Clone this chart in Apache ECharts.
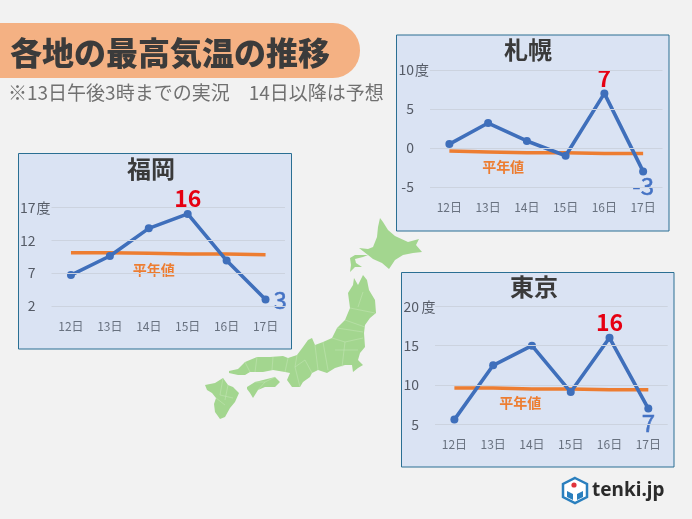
<!DOCTYPE html>
<html>
<head>
<meta charset="utf-8">
<title>各地の最高気温の推移</title>
<style>
html, body { margin: 0; padding: 0; background: #f2f2f2; }
#main { width: 692px; height: 519px; }
</style>
<script src="https://cdn.jsdelivr.net/npm/echarts@6/dist/echarts.min.js"></script>
</head>
<body>
<div id="main"></div>
<script>
var days = ['12日', '13日', '14日', '15日', '16日', '17日'];

var sapporoTemps = [0.5, 3.2, 0.9, -1, 7, -3];
var sapporoNormal = [-0.4, -0.5, -0.6, -0.6, -0.7, -0.7];
var sapporoTicks = [-5, 0, 5, 10];

var fukuokaTemps = [6.7, 9.6, 13.8, 16, 8.9, 3];
var fukuokaNormal = [10.1, 10.1, 10, 9.9, 9.9, 9.8];
var fukuokaTicks = [2, 7, 12, 17];

var tokyoTemps = [5.6, 12.5, 15, 9.1, 16, 7];
var tokyoNormal = [9.6, 9.6, 9.5, 9.5, 9.4, 9.4];
var tokyoTicks = [5, 10, 15, 20];

var cjk = '"Noto Sans CJK JP", sans-serif';

// 3つのパネル（位置はピクセル）
var panels = [
    {
        name: '札幌', temps: sapporoTemps, normal: sapporoNormal, ticks: sapporoTicks,
        box: [396.5, 35, 272.5, 196], grid: [430, 70, 232.5, 117], titleX: 523, titleY: 33,
        unit: '度', lastLabel: { position: 'bottom', distance: -2 },
        normalAt: 1, normalOffset: [15, 15]
    },
    {
        name: '福岡', temps: fukuokaTemps, normal: fukuokaNormal, ticks: fukuokaTicks,
        box: [18.5, 153.5, 273, 195.5], grid: [51.5, 207.3, 233.5, 98.7], titleX: 146, titleY: 152,
        unit: '度', lastLabel: { position: 'right', distance: 4 },
        normalAt: 2, normalOffset: [5, 16]
    },
    {
        name: '東京', temps: tokyoTemps, normal: tokyoNormal, ticks: tokyoTicks,
        box: [401.5, 272.5, 272.5, 194.5], grid: [435, 306.3, 232.7, 118], titleX: 529, titleY: 270,
        unit: ' 度', lastLabel: { position: 'bottom', distance: -2 },
        normalAt: 1, normalOffset: [27, 15]
    }
];

// 日本地図の輪郭
var landShapes = [
    [[380,218],[383,222],[388,230],[395,236],[408,242],[419,239],[416,245],[422,252],[413,253],[403,255],[395,260],[389,269],[382,263],[373,259],[368,255],[363,257],[355,259],[356,263],[362,267],[355,267],[350,272],[351,265],[350,258],[355,255],[368,255],[359,248],[368,249],[373,247],[377,237],[378,227]],
    [[354,278],[358,285],[363,275],[367,280],[369,290],[375,300],[376,313],[370,318],[365,325],[364,333],[365,347],[360,353],[358,360],[363,365],[358,368],[353,372],[352,365],[345,365],[335,368],[327,373],[318,370],[312,373],[310,377],[303,382],[300,387],[292,387],[287,380],[290,373],[285,372],[273,370],[263,372],[250,372],[245,375],[238,375],[229,373],[229,371],[238,369],[245,362],[257,357],[270,357],[283,356],[288,358],[297,355],[303,347],[308,340],[312,338],[315,345],[323,342],[332,338],[337,328],[345,320],[350,308],[348,293],[353,285]],
    [[247,387],[255,382],[267,379],[275,377],[280,382],[275,387],[265,387],[258,390],[253,398],[250,393],[247,389]],
    [[205,385],[215,383],[223,378],[228,385],[233,387],[239,393],[235,402],[230,408],[225,417],[220,419],[215,412],[214,404],[216,398],[212,393],[207,390]]
];
var borderLines = [
    [[363,292],[358,307]], [[350,308],[375,313]], [[345,320],[365,327]], [[337,328],[363,332]],
    [[332,338],[345,342],[363,338]], [[335,350],[358,350]], [[323,342],[328,370]], [[315,345],[318,370]],
    [[305,360],[312,373]], [[345,342],[342,367]], [[295,367],[305,360]], [[285,372],[288,358]],
    [[273,357],[272,370]], [[257,357],[255,372]], [[245,362],[250,372]], [[297,355],[295,367],[300,387]],
    [[255,382],[265,382],[275,377]], [[258,390],[265,382]], [[223,378],[220,395],[233,398]],
    [[216,398],[225,405]], [[228,385],[225,400]]
];

function buildGraphics() {
    var items = [];

    // 見出し
    items.push({
        type: 'rect', shape: { x: -30, y: 23, width: 390, height: 55, r: 27 },
        style: { fill: '#f4b183' }
    });
    items.push({
        type: 'text', x: 10, y: 53,
        style: { text: '各地の最高気温の推移', font: '900 32px ' + cjk, fill: '#3b3b3b', textVerticalAlign: 'middle' }
    });
    items.push({
        type: 'text', x: 8, y: 93,
        style: { text: '※13日午後3時までの実況　14日以降は予想', font: '19px ' + cjk, fill: '#707070', textVerticalAlign: 'middle' }
    });

    // 地図
    landShapes.forEach(function(shape) {
        items.push({ type: 'polygon', shape: { points: shape }, style: { fill: '#a3d68f' } });
    });
    borderLines.forEach(function(line) {
        items.push({
            type: 'polyline', shape: { points: line },
            style: { stroke: '#c6e6b8', lineWidth: 0.5, fill: null }
        });
    });

    // パネルの背景
    panels.forEach(function(p) {
        items.push({
            type: 'rect',
            shape: { x: p.box[0], y: p.box[1], width: p.box[2], height: p.box[3] },
            style: { fill: '#dae3f3', stroke: '#2a6f93', lineWidth: 1 }
        });
    });

    // tenki.jp ロゴ
    items.push({
        type: 'polygon',
        shape: { points: [[575,478],[587,484],[587,497],[575,503],[563,497],[563,484]] },
        style: { fill: '#fff', stroke: '#2a7fbe', lineWidth: 2.5 }
    });
    items.push({ type: 'circle', shape: { cx: 574, cy: 485, r: 2.6 }, style: { fill: '#e0343c' } });
    items.push({
        type: 'polygon', shape: { points: [[567,491],[573,494],[573,500],[567,497]] },
        style: { fill: '#2a7fbe' }
    });
    items.push({
        type: 'polygon', shape: { points: [[577,494],[583,491],[583,497],[577,500]] },
        style: { fill: '#2a7fbe' }
    });
    items.push({
        type: 'text', x: 592, y: 491,
        style: { text: 'tenki.jp', font: 'bold 19px "Noto Sans", sans-serif', fill: '#2b2b2b', textVerticalAlign: 'middle' }
    });
    return items;
}

function tempData(p) {
    var peak = p.temps.indexOf(Math.max.apply(null, p.temps));
    var last = p.temps.length - 1;
    return p.temps.map(function(v, i) {
        if (i === peak) {
            return {
                value: v,
                label: { show: true, position: 'top', distance: 0, color: '#e60012', fontSize: 23, fontWeight: 'bold', fontFamily: cjk }
            };
        }
        if (i === last) {
            return {
                value: v,
                label: {
                    show: true, position: p.lastLabel.position, distance: p.lastLabel.distance,
                    color: '#4472c4', fontSize: 24, fontFamily: cjk,
                    textBorderColor: '#4472c4', textBorderWidth: 0.5
                }
            };
        }
        return v;
    });
}

function normalData(p) {
    return p.normal.map(function(v, i) {
        if (i !== p.normalAt) return v;
        return {
            value: v,
            label: {
                show: true, formatter: '平年値', position: 'inside', offset: p.normalOffset,
                color: '#ed7d31', fontSize: 14, fontWeight: 'bold', fontFamily: cjk
            }
        };
    });
}

var grids = [], xAxes = [], yAxes = [], seriesList = [], titles = [];

panels.forEach(function(p, i) {
    var top = p.ticks[p.ticks.length - 1];
    titles.push({
        text: p.name, left: p.titleX, top: p.titleY, textAlign: 'center',
        textStyle: { fontFamily: cjk, fontSize: 24, fontWeight: 'bold', color: '#3a3a3a' }
    });
    grids.push({ left: p.grid[0], top: p.grid[1], width: p.grid[2], height: p.grid[3] });
    xAxes.push({
        type: 'category', gridIndex: i, data: days,
        axisLine: { show: false }, axisTick: { show: false },
        axisLabel: { margin: 14, fontSize: 12, color: '#68717f', fontFamily: cjk, interval: 0 }
    });
    yAxes.push({
        type: 'value', gridIndex: i, min: p.ticks[0], max: top,
        axisLine: { show: false }, axisTick: { show: false }, splitLine: { show: false },
        axisLabel: {
            customValues: p.ticks, margin: 0,
            formatter: function(v) {
                return v === top ? '{v|' + v + '}{u|' + p.unit + '}' : '{v|' + v + '}{e| }';
            },
            rich: {
                v: { fontSize: 14, color: '#555b66', fontFamily: cjk },
                u: { fontSize: 14, color: '#555b66', fontFamily: cjk, width: 16, align: 'left' },
                e: { fontSize: 14, width: 16 }
            }
        }
    });
    seriesList.push({
        type: 'line', name: p.name + '平年値', xAxisIndex: i, yAxisIndex: i, z: 2,
        data: normalData(p), showSymbol: true, symbol: 'circle', symbolSize: 0,
        lineStyle: { color: '#ed7d31', width: 3.5 },
        markLine: {
            silent: true, symbol: ['none', 'none'], label: { show: false },
            lineStyle: { color: '#ccd3df', width: 1, type: 'solid' },
            data: p.ticks.map(function(t) { return { yAxis: t }; })
        }
    });
    seriesList.push({
        type: 'line', name: p.name, xAxisIndex: i, yAxisIndex: i, z: 3,
        data: tempData(p), symbol: 'circle', symbolSize: 8,
        itemStyle: { color: '#3f6fbb' },
        lineStyle: { color: '#3f6fbb', width: 3.6 }
    });
});

var myChart = echarts.init(document.getElementById('main'));
myChart.setOption({
    animation: false,
    backgroundColor: '#f2f2f2',
    title: titles,
    grid: grids,
    xAxis: xAxes,
    yAxis: yAxes,
    graphic: { elements: buildGraphics() },
    series: seriesList
});
</script>
</body>
</html>
